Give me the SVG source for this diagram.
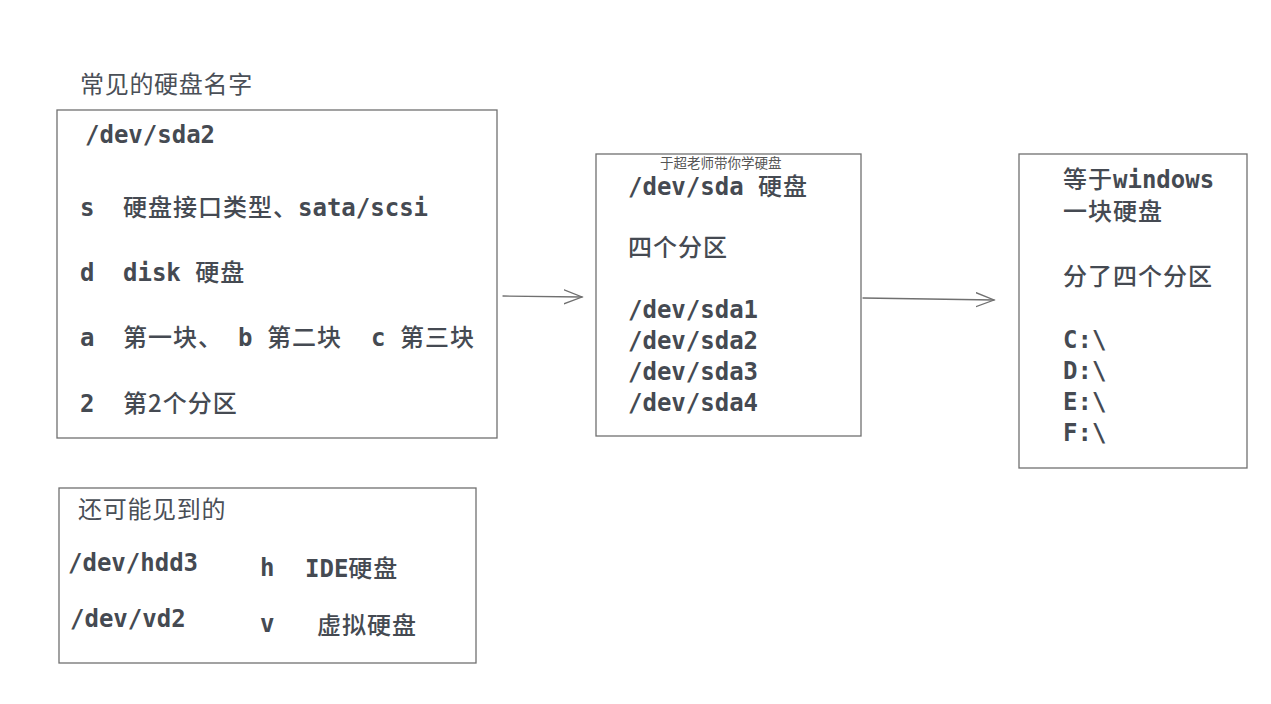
<svg xmlns="http://www.w3.org/2000/svg" width="1271" height="704" viewBox="0 0 1271 704">
<defs>
<style>
.box{fill:#fff;stroke:#707070;stroke-width:1.3}
.t{font-family:"DejaVu Sans Mono","Noto Sans CJK SC",monospace;font-size:24px;fill:#454a52;font-weight:600}
.k{font-family:"Noto Sans CJK SC",sans-serif;font-weight:500;letter-spacing:1px}
.c{font-family:"Noto Sans CJK SC",sans-serif;font-size:24px;fill:#4a4f57;letter-spacing:0.7px}
.wm{font-family:"Noto Sans CJK SC",sans-serif;font-size:13.5px;fill:#555}
.con{fill:none;stroke:#707070;stroke-width:1.3;stroke-linecap:round}
</style>
<marker id="ah" viewBox="0 0 20 20" refX="18" refY="10" markerWidth="20" markerHeight="20" markerUnits="userSpaceOnUse" orient="auto">
<path d="M0,3 L18,10 L0,17" fill="none" stroke="#707070" stroke-width="1.3" stroke-linecap="round"/>
</marker>
</defs>
<rect width="1271" height="704" fill="#fff"/>
<g id="title"><text class="c" x="80" y="93">常见的硬盘名字</text></g>
<g id="box-names">
<rect class="box" x="57" y="110" width="440" height="328"/>
<text class="t" x="85" y="143">/dev/sda2</text>
<text class="t" x="80" y="216">s</text><text class="t" x="123" y="216"><tspan class="k">硬盘接口类型、</tspan>sata/scsi</text>
<text class="t" x="80" y="281">d</text><text class="t" x="123" y="281">disk <tspan class="k">硬盘</tspan></text>
<text class="t" x="80" y="346">a</text><text class="t k" x="123" y="346">第一块、</text>
<text class="t" x="238" y="346">b</text><text class="t k" x="267" y="346">第二块</text>
<text class="t" x="371" y="346">c</text><text class="t k" x="400" y="346">第三块</text>
<text class="t" x="80" y="412">2</text><text class="t k" x="123" y="412">第2个分区</text>
</g>
<g id="box-sda">
<rect class="box" x="596" y="154" width="265" height="282"/>
<text class="wm" x="660" y="168">于超老师带你学硬盘</text>
<text class="t" x="628" y="195">/dev/sda <tspan class="k">硬盘</tspan></text>
<text class="t k" x="628" y="256">四个分区</text>
<text class="t" x="628" y="318">/dev/sda1</text>
<text class="t" x="628" y="349">/dev/sda2</text>
<text class="t" x="628" y="380">/dev/sda3</text>
<text class="t" x="628" y="411">/dev/sda4</text>
</g>
<g id="box-windows">
<rect class="box" x="1019" y="154" width="228" height="314"/>
<text class="t" x="1063" y="188"><tspan class="k">等于</tspan>windows</text>
<text class="t k" x="1063" y="220">一块硬盘</text>
<text class="t k" x="1063" y="285">分了四个分区</text>
<text class="t" x="1063" y="348">C:\</text>
<text class="t" x="1063" y="379">D:\</text>
<text class="t" x="1063" y="410">E:\</text>
<text class="t" x="1063" y="441">F:\</text>
</g>
<g id="box-other">
<rect class="box" x="59" y="488" width="417" height="175"/>
<text class="c" x="78" y="518">还可能见到的</text>
<text class="t" x="68" y="571">/dev/hdd3</text>
<text class="t" x="260" y="576">h</text><text class="t" x="305" y="577">IDE<tspan class="k">硬盘</tspan></text>
<text class="t" x="70" y="627">/dev/vd2</text>
<text class="t" x="260" y="632">v</text><text class="t k" x="317" y="634">虚拟硬盘</text>
</g>
<g id="connectors">
<path class="con" d="M503,296 L582,297" marker-end="url(#ah)"/>
<path class="con" d="M863,298 L994,300" marker-end="url(#ah)"/>
</g>
</svg>
